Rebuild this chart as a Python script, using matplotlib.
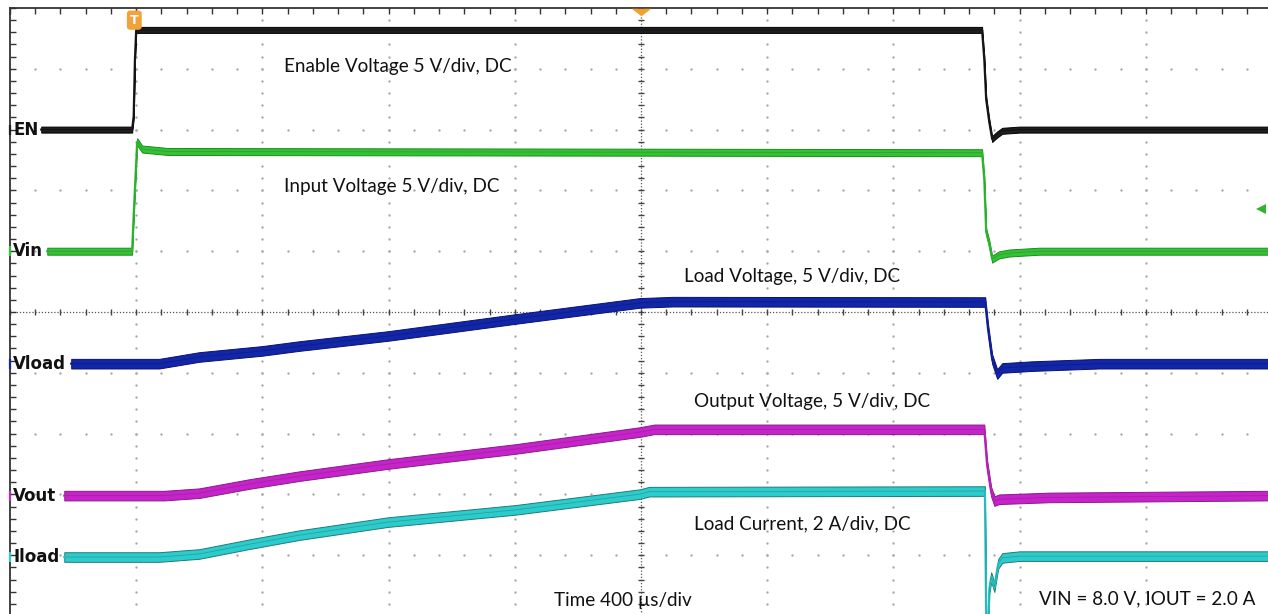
import numpy as np
import matplotlib.pyplot as plt

# scope time base (trigger at t = 0)
time_per_div = 400  # us/div
t_left = -400
t_right = 3600

# channel traces: time in us, value in V (Iload in A)
en_t = [-301, -13, -8, -4, 0, 2681, 2688, 2694, 2704, 2713, 2729, 2745, 2800, 3590]
en_v = [0.0, 0.0, 1.1, 5.8, 8.2, 8.2, 5.8, 2.5, 0.6, -0.77, -0.4, -0.1, 0.0, 0.0]

vin_t = [-282, -13, -8, 3, 19, 100, 2681, 2688, 2694, 2704, 2713, 2735, 2767, 2862, 3590]
vin_v = [0.0, 0.0, 3.0, 9.0, 8.4, 8.2, 8.1, 5.9, 1.6, 0.6, -0.65, -0.3, -0.15, 0.0, 0.0]

vload_t = [-206, 73, 200, 399, 517, 799, 1201, 1597, 1700, 2691, 2700, 2713, 2729, 2745, 2840, 3052, 3590]
vload_v = [0.0, 0.0, 0.55, 1.05, 1.45, 2.28, 3.67, 5.0, 5.1, 5.07, 2.85, 0.38, -0.85, -0.35, -0.2, 0.0, 0.0]

vout_t = [-228, 89, 200, 358, 517, 799, 1201, 1597, 1642, 2688, 2697, 2710, 2720, 2735, 2894, 3590]
vout_v = [0.0, 0.0, 0.2, 0.95, 1.6, 2.6, 3.83, 5.23, 5.45, 5.45, 2.52, 0.3, -0.45, -0.3, -0.15, 0.0]

iload_t = [-228, 73, 200, 358, 517, 799, 1201, 1597, 1626, 2690, 2695, 2699, 2704, 2710, 2720, 2732, 2745, 2800, 3590]
iload_v = [0.0, 0.0, 0.1, 0.42, 0.72, 1.15, 1.55, 2.07, 2.15, 2.17, -3.0, -3.0, -1.05, -0.66, -0.99, -0.23, -0.03, 0.03, 0.03]

# name, times, values, offset (div), units/div, fill colour, edge colour, half band (px)
channels = [
    ("EN", en_t, en_v, 3.0, 5, "#1e1e1e", "#000000", 3.0),
    ("Vin", vin_t, vin_v, 1.0, 5, "#33c233", "#1f8a1f", 3.5),
    ("Vload", vload_t, vload_v, -0.85, 5, "#1226a8", "#0a1070", 4.8),
    ("Vout", vout_t, vout_v, -3.02, 5, "#c624ca", "#861c86", 4.8),
    ("Iload", iload_t, iload_v, -4.03, 2, "#2ccccc", "#207a7a", 4.8),
]

notes = [
    ("Enable Voltage 5 V/div, DC", 469, 4.03),
    ("Input Voltage 5 V/div, DC", 469, 2.07),
    ("Load Voltage, 5 V/div, DC", 1737, 0.59),
    ("Output Voltage, 5 V/div, DC", 1769, -1.48),
    ("Load Current, 2 A/div, DC", 1769, -3.49),
    ("Time 400 \u00b5s/div", 1325, -4.74),
    ("VIN = 8.0 V, IOUT = 2.0 A", 2862, -4.72),
]

W, H = 1268, 614
px_per_div_y = 60.8

fig = plt.figure(figsize=(W / 100, H / 100), dpi=100)
ax = fig.add_axes([10 / W, -2 / H, 1262 / W, 608 / H])
ax.set_xlim(t_left, t_right)
ax.set_ylim(-5, 5)

# graticule
major_t = np.arange(t_left, t_right + 1, time_per_div)
minor_t = np.arange(t_left, t_right + 1, time_per_div / 5)
minor_y = np.arange(-5, 5.01, 0.2)
grid_col = "#a8a8a8"
for t in major_t[1:]:
    if t == 1600:
        continue
    ax.plot(np.full_like(minor_y, t), minor_y, ls="none", marker="o", ms=1.7,
            mew=0, color=grid_col, zorder=1)
for d in range(-4, 5):
    if d == 0:
        continue
    ax.plot(minor_t, np.full_like(minor_t, d), ls="none", marker="o", ms=1.7,
            mew=0, color=grid_col, zorder=1)

# centre lines with small ticks
ax.axvline(1600, ls=(0, (1, 1.5)), lw=0.9, color="#555555", zorder=1)
ax.axhline(0, ls=(0, (1, 1.5)), lw=0.9, color="#555555", zorder=1)
ax.plot(np.full_like(minor_y, 1600), minor_y, ls="none", marker="_", ms=5,
        mew=1.0, color="#444444", zorder=1)
ax.plot(minor_t, np.zeros_like(minor_t), ls="none", marker="|", ms=5,
        mew=1.0, color="#444444", zorder=1)

# border on left and top
for s in ["bottom", "right"]:
    ax.spines[s].set_visible(False)
for s in ["left", "top"]:
    ax.spines[s].set_color("#333333")
    ax.spines[s].set_linewidth(1.3)
ax.set_xticks(major_t)
ax.set_xticks(minor_t, minor=True)
ax.set_yticks(np.arange(-5, 6, 1))
ax.set_yticks(minor_y, minor=True)
ax.tick_params(which="both", direction="in", top=True, bottom=False, left=True,
               right=False, labeltop=False, labelbottom=False, labelleft=False,
               length=4, width=1.0, color="#333333")

# traces
label_t = (14 - 137) / 126.2 * time_per_div
mark_t = (11 - 137) / 126.2 * time_per_div
for name, t, v, off, scale, fc, ec, band in channels:
    t = np.array(t, dtype=float)
    y = off + np.array(v) / scale
    h = band / px_per_div_y
    ax.fill_between(t, y - h, y + h, facecolor=fc, edgecolor=ec, lw=0.7,
                    zorder=3)
    ax.plot(t, y, color=fc, lw=1.6, zorder=4)
    ax.plot(t, y, color=ec, lw=0.6, alpha=0.5, zorder=4)
    ax.text(label_t, off, name, ha="left", va="center", fontsize=12,
            fontweight="bold", family="DejaVu Sans", color="#111111", zorder=5)
    ax.plot(mark_t, off, marker="|", ms=7, mew=1.6, color=fc, zorder=5,
            clip_on=False)

# trigger markers
ax.text(-6, 4.80, "T", ha="center", va="center", fontsize=9, fontweight="bold",
        color="white", family="DejaVu Sans", zorder=6,
        bbox=dict(boxstyle="round,pad=0.25", fc="#f2a23a", ec="none"))
ax.plot(1600, 4.93, marker=[(-1.3, 0.5), (1.3, 0.5), (0, -0.5)], ms=14,
        color="#f2a030", mew=0, zorder=6, clip_on=False)
ax.plot(3566, 1.69, marker="<", ms=7, color="#2fb52f", mew=0, zorder=6,
        clip_on=False)

# annotations
for txt, x, y in notes:
    ax.text(x, y, txt, ha="left", va="center", fontsize=13.6,
            family=["Lato", "DejaVu Sans"], color="#111111", zorder=6)

fig.savefig("out.png", dpi=100)
